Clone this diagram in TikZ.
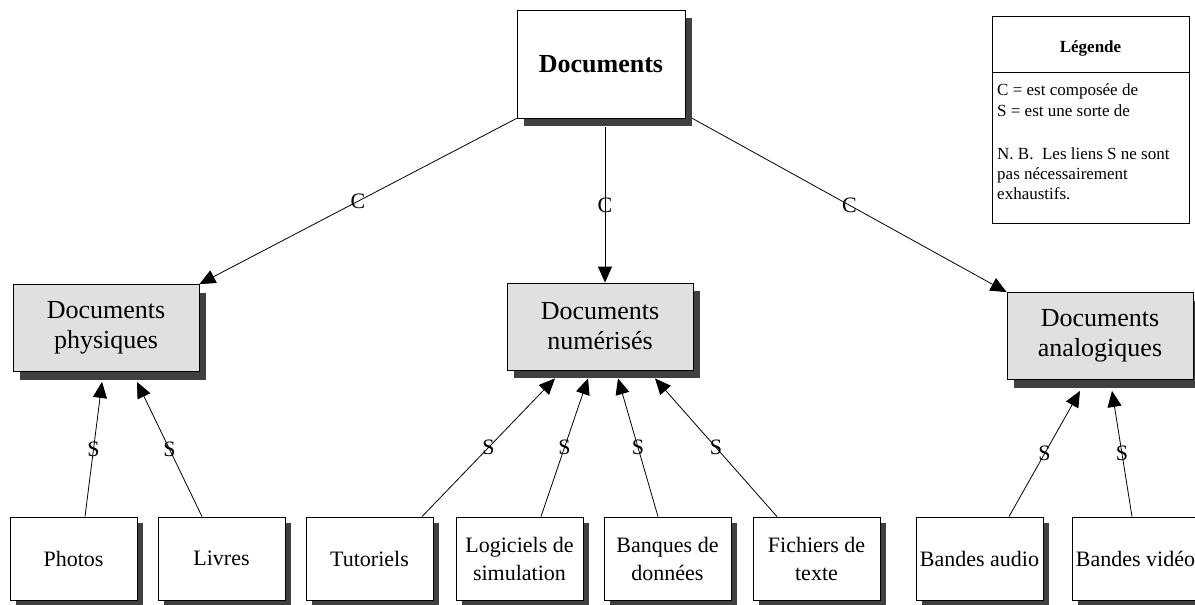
\documentclass[tikz,border=0pt]{standalone}
\usepackage{fontspec}
\setmainfont{Liberation Serif}
\usetikzlibrary{shadows,arrows.meta}
\definecolor{boxgray}{HTML}{E0E0E0}
\definecolor{shgray}{HTML}{404040}
\begin{document}
\begin{tikzpicture}[x=1pt,y=-1pt,
  base/.style={draw=black, line width=0.8pt, inner sep=0pt, align=center},
  topbox/.style={base, fill=white, minimum width=168pt, minimum height=108pt,
    font=\fontsize{26}{30}\selectfont\bfseries,
    drop shadow={shadow xshift=7pt, shadow yshift=-8pt, fill=shgray, opacity=1}},
  midbox/.style={base, fill=boxgray, minimum width=186pt, minimum height=87pt,
    font=\fontsize{26}{30}\selectfont,
    drop shadow={shadow xshift=7pt, shadow yshift=-8pt, fill=shgray, opacity=1}},
  leafbox/.style={base, fill=white, minimum width=127pt, minimum height=83pt,
    font=\fontsize{22}{28}\selectfont,
    drop shadow={shadow xshift=6pt, shadow yshift=-6pt, fill=shgray, opacity=1}},
  conn/.style={line width=0.8pt, -{Triangle[length=16pt,width=14pt]}},
  lab/.style={font=\fontsize{22}{22}\selectfont, inner sep=0pt},
  legtxt/.style={font=\fontsize{17}{17}\selectfont, inner sep=0pt, anchor=base west},
]
\useasboundingbox (0,0) rectangle (1195,605);
\clip (0,0) rectangle (1195,605);

% main nodes
\node[topbox] (top) at (601,64) {Documents};
\node[midbox] (phys) at (106,328) {Documents\\physiques};
\node[midbox] (num) at (600,326.5) {Documents\\numérisés};
\node[midbox] (analog) at (1100,336) {Documents\\analogiques};

% leaves
\node[leafbox] (photos) at (73.5,558.5) {Photos};
\node[leafbox] (livres) at (221.5,558.5) {Livres};
\node[leafbox] (tut) at (369.5,558.5) {Tutoriels};
\node[leafbox] (logi) at (519.5,558.5) {Logiciels de\\simulation};
\node[leafbox] (banq) at (667.5,558.5) {Banques de\\données};
\node[leafbox] (fich) at (816.5,558.5) {Fichiers de\\texte};
\node[leafbox] (audio) at (979.5,558.5) {Bandes audio};
\node[leafbox] (video) at (1135.5,558.5) {Bandes vidéo};

% C links
\draw[conn] (top.south west) -- node[lab]{C} (phys.north east);
\draw[conn] ([xshift=4pt,yshift=-9pt]top.south) -- node[lab]{C} ([xshift=5pt]num.north);
\draw[conn] ([xshift=7pt]top.south east) -- node[lab]{C} (analog.north west);

% S links
\draw[conn] ([xshift=11.5pt]photos.north) -- node[lab]{S} ([xshift=-4pt,yshift=-10pt]phys.south);
\draw[conn] ([xshift=-19.5pt]livres.north) -- node[lab]{S} ([xshift=31pt,yshift=-10pt]phys.south);
\draw[conn] ([xshift=52.5pt]tut.north) -- node[lab]{S} ([xshift=-45pt,yshift=-8pt]num.south);
\draw[conn] ([xshift=21.5pt]logi.north) -- node[lab]{S} ([xshift=-12pt,yshift=-8pt]num.south);
\draw[conn] ([xshift=-9.5pt]banq.north) -- node[lab]{S} ([xshift=18pt,yshift=-8pt]num.south);
\draw[conn] ([xshift=-39.5pt]fich.north) -- node[lab]{S} ([xshift=55pt,yshift=-8pt]num.south);
\draw[conn] ([xshift=29.5pt]audio.north) -- node[lab]{S} ([xshift=-20pt,yshift=-11pt]analog.south);
\draw[conn] ([xshift=-3.5pt]video.north) -- node[lab]{S} ([xshift=12pt,yshift=-11pt]analog.south);

% legend
\node[draw=black, line width=0.8pt, minimum width=197pt, minimum height=207pt, inner sep=0pt, anchor=north west] (leg) at (992,16) {};
\coordinate (divl) at (992,72);
\coordinate (divr) at (1189,72);
\draw[line width=0.8pt] (divl) -- (divr);
\node[font=\fontsize{17}{17}\selectfont\bfseries, inner sep=0pt, anchor=base] (legtitle) at (1090.5,52) {Légende};
\node[legtxt] (l1) at (997,95) {C = est composée de};
\node[legtxt] (l2) at (997,116) {S = est une sorte de};
\node[legtxt] (l3) at (997,159) {N. B.\ \ Les liens S ne sont};
\node[legtxt] (l4) at (997,179) {pas nécessairement};
\node[legtxt] (l5) at (997,199) {exhaustifs.};
\end{tikzpicture}
\end{document}
